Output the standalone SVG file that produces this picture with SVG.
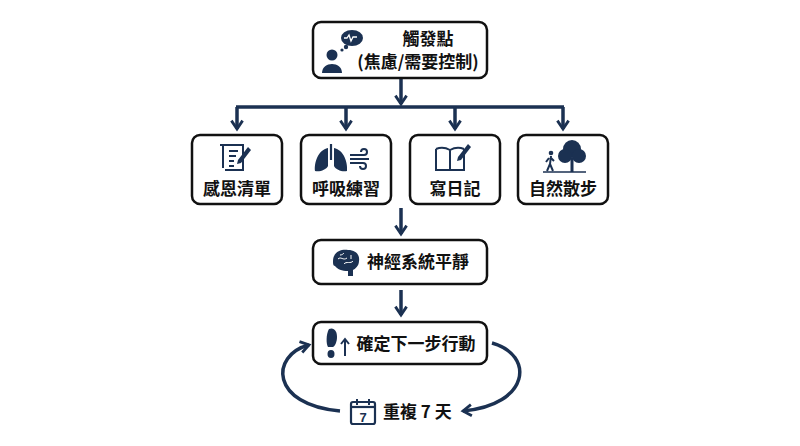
<svg xmlns="http://www.w3.org/2000/svg" width="800" height="446" viewBox="0 0 800 446">
<style>
.box{fill:#fff;stroke:#111;stroke-width:2.5}
.t{font-family:"Noto Sans CJK TC","Noto Sans CJK SC",sans-serif;font-weight:700;fill:#111;font-size:17px}
.ln{stroke:#1b3152;stroke-width:3.5;fill:none}
.ic{fill:#1b3152}
.ics{stroke:#1b3152;stroke-width:2;fill:none}
</style>
<defs>
<marker id="ah" viewBox="0 0 10 10" refX="7" refY="5" markerWidth="4" markerHeight="4" orient="auto"><path d="M1,1 L7,5 L1,9" fill="none" stroke="#1b3152" stroke-width="2"/></marker>
</defs>
<rect width="800" height="446" fill="#fff"/>
<g id="connectors">
<line class="ln" x1="401" y1="79" x2="401" y2="104" marker-end="url(#ah)"/>
<line class="ln" x1="236" y1="107" x2="564" y2="107"/>
<line class="ln" x1="237" y1="107" x2="237" y2="129" marker-end="url(#ah)"/>
<line class="ln" x1="346" y1="107" x2="346" y2="129" marker-end="url(#ah)"/>
<line class="ln" x1="455" y1="107" x2="455" y2="129" marker-end="url(#ah)"/>
<line class="ln" x1="563" y1="107" x2="563" y2="129" marker-end="url(#ah)"/>
<line class="ln" x1="401" y1="208" x2="401" y2="234" marker-end="url(#ah)"/>
<line class="ln" x1="401" y1="290" x2="401" y2="315" marker-end="url(#ah)"/>
<path class="ln" d="M340,411 C270,405 270,355 309,345" marker-end="url(#ah)"/>
<path class="ln" d="M492,343 C535,355 530,405 463,411" marker-end="url(#ah)"/>
</g>
<g id="trigger">
<rect class="box" x="313" y="22" width="174" height="56" rx="8"/>
<circle class="ic" cx="332" cy="55" r="5.5"/>
<path class="ic" d="M322,73 C322,61 342,61 342,73Z"/>
<circle class="ic" cx="342" cy="50" r="1.6"/><circle class="ic" cx="346" cy="47" r="2.2"/>
<ellipse class="ic" cx="352" cy="38" rx="11" ry="8"/>
<path d="M344,38 h3 l2,-3 l2,6 l2,-4 h4" stroke="#fff" stroke-width="1.3" fill="none"/>
<text class="t" x="428" y="45" text-anchor="middle">觸發點</text>
<text class="t" x="418" y="68" text-anchor="middle">(焦慮/需要控制)</text>
</g>
<g id="gratitude">
<rect class="box" x="192" y="135" width="90" height="69" rx="8"/>
<path class="ics" d="M223,145 h20 v25 h-18 M223,145 v23 M220,145 h6"/>
<path class="ics" d="M229,151 h9 M229,156 h7 M229,161 h5 M229,166 h5" stroke-width="1.5"/>
<path class="ic" d="M248,147 l3,3 l-10,13 l-4,1 l1,-4Z"/>
<text class="t" x="237" y="195" text-anchor="middle">感恩清單</text>
</g>
<g id="breathing">
<rect class="box" x="301" y="135" width="90" height="69" rx="8"/>
<path class="ic" d="M328,148 C318,150 314,163 315,171 C320,172 326,170 328,166Z M334,148 C344,150 348,163 347,171 C342,172 336,170 334,166Z"/>
<line x1="331" y1="144" x2="331" y2="160" stroke="#1b3152" stroke-width="2.2"/>
<path class="ics" d="M350,155 h14 a3,3 0 1 0 -3,-3 M350,159 h19 M350,163 h13 a3,3 0 1 1 -3,3" stroke-width="1.7"/>
<text class="t" x="346" y="195" text-anchor="middle">呼吸練習</text>
</g>
<g id="journal">
<rect class="box" x="410" y="135" width="90" height="69" rx="8"/>
<path class="ics" d="M436,149 v21 h14 h14 v-21 M436,149 q7,-3 14,1 q7,-4 14,-1 M450,150 v20" stroke-width="2.4"/>
<path class="ic" d="M468,144 l3,3 l-10,13 l-4,1 l1,-4Z"/>
<text class="t" x="455" y="195" text-anchor="middle">寫日記</text>
</g>
<g id="walk">
<rect class="box" x="518" y="135" width="90" height="69" rx="8"/>
<circle class="ic" cx="551" cy="153" r="2.3"/>
<path class="ics" d="M551,156 l-1,8 l-3,7 M550,164 l3,7 M549,158 l-3,4 M551,158 l3,3" stroke-width="2"/>
<circle class="ic" cx="572" cy="149" r="9"/><circle class="ic" cx="565" cy="156" r="7"/><circle class="ic" cx="579" cy="156" r="7"/>
<rect class="ic" x="570.5" y="158" width="3" height="14"/>
<line x1="543" y1="172" x2="586" y2="172" stroke="#1b3152" stroke-width="1.5"/>
<text class="t" x="563" y="195" text-anchor="middle">自然散步</text>
</g>
<g id="calm">
<rect class="box" x="313" y="240" width="174" height="44" rx="8"/>
<path class="ic" d="M333,261 c0,-9 8,-12 15,-11 c8,0 12,5 11,11 c0,5 -4,8 -6,9 v6 h-5 v-5 c-6,0 -11,-2 -13,-5 c-2,0 -2,-3 -2,-5Z"/>
<path d="M338,259 c3,-3 5,2 9,-1 M344,264 c2,-3 7,0 9,-3 M340,255 c2,0 3,-1 4,-2 M351,255 v4" stroke="#fff" stroke-width="1" fill="none"/>
<text class="t" x="418" y="268" text-anchor="middle">神經系統平靜</text>
</g>
<g id="action">
<rect class="box" x="313" y="322" width="174" height="42" rx="8"/>
<path class="ic" d="M329,329 c5,-2 8,2 8,8 c0,5 -2,9 -4,10 h-5 c-2,-3 -2,-13 1,-18Z"/>
<ellipse class="ic" cx="331" cy="354" rx="3.5" ry="4"/>
<path class="ics" d="M345,356 v-16 M341,344 l4,-5 l4,5"/>
<text class="t" x="416" y="350" text-anchor="middle">確定下一步行動</text>
</g>
<g id="repeat">
<rect x="351" y="402" width="24" height="22" rx="2" fill="none" stroke="#1b3152" stroke-width="2.2"/>
<line x1="351" y1="407" x2="375" y2="407" stroke="#1b3152" stroke-width="2.2"/>
<line x1="357" y1="399" x2="357" y2="405" stroke="#1b3152" stroke-width="2"/>
<line x1="369" y1="399" x2="369" y2="405" stroke="#1b3152" stroke-width="2"/>
<text x="363" y="422" text-anchor="middle" font-family="Liberation Sans,sans-serif" font-weight="700" font-size="13" fill="#1b3152">7</text>
<text class="t" x="383" y="418">重複 7 天</text>
</g>
</svg>
